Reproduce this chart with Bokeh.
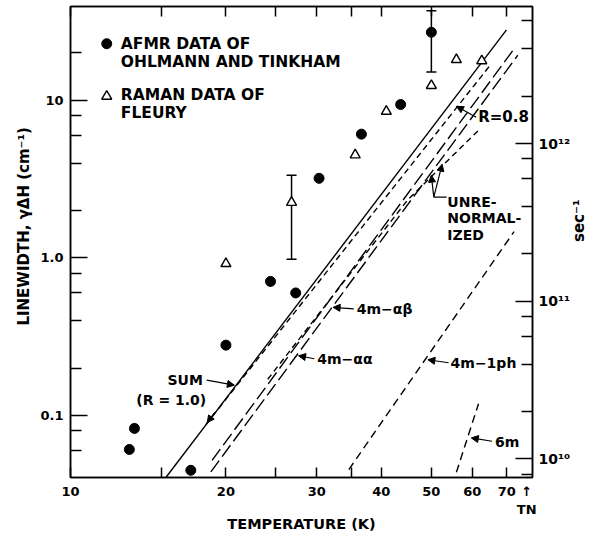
import math
from bokeh.plotting import figure
from bokeh.models import (Range1d, LogAxis, FixedTicker, Label, Arrow, NormalHead,
                          Whisker, TeeHead, ColumnDataSource)
from bokeh.embed import file_html
from bokeh.resources import INLINE

# ---------------- data ----------------
# AFMR data of Ohlmann and Tinkham (filled circles)
afmr_T = [13.0, 13.3, 17.1, 20.0, 24.4, 27.3, 30.3, 36.6, 43.6, 50.0]
afmr_W = [0.061, 0.083, 0.045, 0.28, 0.71, 0.60, 3.2, 6.1, 9.4, 27.0]
# Raman data of Fleury (open triangles)
raman_T = [20.0, 26.8, 35.6, 40.9, 50.0, 55.9, 62.6]
raman_W = [0.92, 2.25, 4.5, 8.5, 12.4, 18.1, 17.8]
# error bars
err_T = [26.8, 50.0]
err_lo = [0.98, 15.1]
err_hi = [3.35, 37.0]

# theory curves (temperature K, linewidth cm^-1)
sum_T = [15.3, 69.9]
sum_W = [0.0405, 28.0]
r08_T = [18.3, 64.9]
r08_W = [0.088, 16.6]
ab_T = [18.8, 71.9]
ab_W = [0.052, 20.7]
aa_T = [18.7, 73.5]
aa_W = [0.044, 19.3]
unren_T = [24.1, 45.0, 62.2]
unren_W = [0.170, 2.34, 6.62]
ph1_T = [34.6, 72.3]
ph1_W = [0.0455, 1.47]
m6_T = [55.9, 61.7]
m6_W = [0.0437, 0.119]

# ticks
T_N = 76.5
x_ticks = [10, 20, 30, 40, 50, 60, 70, T_N]
x_tick_labels = ["10", "20", "30", "40", "50", "60", "70", "\u2191\nTN"]
x_tick_marks = [10, 15, 20, 25, 30, 35, 40, 50, 60, 70]
y_ticks = [0.1, 1.0, 10.0]
y_tick_labels = ["0.1", "1.0", "10"]
y_minor = [0.04, 0.06, 0.08, 0.2, 0.4, 0.6, 0.8, 2, 4, 6, 8, 20]
sec_ticks = [1e10, 1e11, 1e12]
sec_tick_labels = ["10\u00b9\u2070", "10\u00b9\u00b9", "10\u00b9\u00b2"]
sec_minor = [8e9, 2e10, 4e10, 6e10, 8e10, 2e11, 4e11, 6e11, 8e11, 2e12, 4e12, 6e12]
CM_TO_SEC = 2 * math.pi * 2.998e10

# ---------------- layout calibration (page pixels) ----------------
W, H = 600, 534
FL, FR, FT, FB = 70, 538, 6, 478
X_DEC = 523.0   # px per decade in T
Y_DEC = 158.0   # px per decade in linewidth
Y10_PX = 100.0  # page y of 10 cm^-1


def tx(px):
    return 10 * 10 ** ((px - FL) / X_DEC)


def wy(py):
    return 10 * 10 ** ((Y10_PX - py) / Y_DEC)


FONT = "DejaVu Sans"
NB = "\u00a0"

x_range = Range1d(10, tx(FR))
y_range = Range1d(wy(FB), wy(FT))

p = figure(width=W, height=H, x_axis_type="log", y_axis_type="log",
           x_range=x_range, y_range=y_range,
           output_backend="svg", toolbar_location=None,
           min_border_left=FL, min_border_right=W - FR,
           min_border_top=FT, min_border_bottom=H - FB)
p.xgrid.visible = False
p.ygrid.visible = False
p.outline_line_color = "black"
p.outline_line_width = 1.5
p.background_fill_color = "white"
p.border_fill_color = "white"

p.extra_y_ranges = {"sec": Range1d(wy(FB) * CM_TO_SEC, wy(FT) * CM_TO_SEC)}


def style_axis(ax, ticks, minor, major_len, minor_len, labels=None, size="13px"):
    ax.ticker = FixedTicker(ticks=ticks, minor_ticks=minor)
    ax.major_tick_in = major_len
    ax.major_tick_out = 0
    ax.minor_tick_in = minor_len
    ax.minor_tick_out = 0
    ax.major_tick_line_width = 1.5
    ax.minor_tick_line_width = 1.5
    ax.axis_line_width = 1.5
    ax.major_tick_line_color = "black"
    ax.minor_tick_line_color = "black"
    ax.axis_line_color = "black"
    if labels is None:
        ax.major_label_overrides = {t: "" for t in ticks}
        ax.major_label_text_font_size = "1px"
        ax.major_label_standoff = 0
    else:
        ax.major_label_overrides = dict(zip(ticks, labels))
        ax.major_label_text_font = FONT
        ax.major_label_text_font_style = "bold"
        ax.major_label_text_font_size = size
        ax.major_label_text_color = "black"
        ax.major_label_standoff = 7
    ax.axis_label_text_font = FONT
    ax.axis_label_text_font_style = "bold"
    ax.axis_label_text_color = "black"


# bottom axis: tick marks drawn as minor ticks, labels on major ticks
xax = p.xaxis[0]
style_axis(xax, x_ticks, x_tick_marks, 0, 10, x_tick_labels)
xax.major_label_standoff = 6
xax.axis_label = "TEMPERATURE (K)"
xax.axis_label_text_font_size = "14.5px"
xax.axis_label_standoff = -4

yax = p.yaxis[0]
style_axis(yax, y_ticks, y_minor, 17, 11, y_tick_labels)
yax.axis_label = NB * 6 + "LINEWIDTH, \u03b3\u0394H (cm\u207b\u00b9)"
yax.axis_label_text_font_size = "15px"
yax.axis_label_standoff = 4

top = LogAxis()
style_axis(top, x_ticks[:-1], x_tick_marks, 0, 10)
p.add_layout(top, "above")

right = LogAxis(y_range_name="sec")
style_axis(right, sec_ticks, sec_minor, 17, 11, sec_tick_labels, size="14px")
right.major_label_standoff = 6
right.axis_label = "sec\u207b\u00b9"
right.axis_label_text_font_size = "15px"
right.axis_label_standoff = 6
right.axis_label_orientation = math.pi / 2
p.add_layout(right, "right")

# ---------------- theory lines ----------------
LW = 1.4
p.line(sum_T, sum_W, line_color="black", line_width=LW)
p.line(r08_T, r08_W, line_color="black", line_width=LW, line_dash="6 4")
p.line(ab_T, ab_W, line_color="black", line_width=LW, line_dash="14 5")
p.line(aa_T, aa_W, line_color="black", line_width=LW, line_dash="14 5")
p.line(unren_T, unren_W, line_color="black", line_width=LW, line_dash="6 4")
p.line(ph1_T, ph1_W, line_color="black", line_width=LW, line_dash="8 5")
p.line(m6_T, m6_W, line_color="black", line_width=LW, line_dash="8 5")

# ---------------- data points ----------------
err_src = ColumnDataSource(dict(x=err_T, lo=err_lo, hi=err_hi))
p.add_layout(Whisker(source=err_src, base="x", lower="lo", upper="hi",
                     line_width=1.5, line_color="black",
                     upper_head=TeeHead(size=10, line_width=1.5, line_color="black"),
                     lower_head=TeeHead(size=10, line_width=1.5, line_color="black")))
p.scatter(afmr_T, afmr_W, marker="circle", size=10, fill_color="black", line_color="black")
p.scatter(raman_T, raman_W, marker="triangle", size=10, fill_color="white",
          line_color="black", line_width=1.4)

# ---------------- legend (drawn by hand) ----------------
p.scatter([tx(106.7)], [wy(43.3)], marker="circle", size=10, fill_color="black", line_color="black")
p.scatter([tx(106.7)], [wy(96)], marker="triangle", size=10, fill_color="white",
          line_color="black", line_width=1.4)


def label(text, px, py, size="14px", align="left", angle=0.0, style="bold"):
    p.add_layout(Label(x=tx(px), y=wy(py), text=text, text_font=FONT,
                       text_font_style=style, text_font_size=size,
                       text_align=align, text_baseline="middle", angle=angle,
                       text_color="black"))


label("AFMR DATA OF", 121, 43.3, "15.5px")
label("OHLMANN AND TINKHAM", 121, 61.7, "15.5px")
label("RAMAN DATA OF", 121, 95, "15.5px")
label("FLEURY", 121, 112.7, "15.5px")

label("R=0.8", 483, 116.7, "15px")
label("UNRE-", 451.7, 201.6, "14px")
label("NORMAL-", 451.7, 218.3, "14px")
label("IZED", 451.7, 235, "14px")
label("4m\u2212\u03b1\u03b2", 360, 309.3, "14px")
label("4m\u2212\u03b1\u03b1", 320, 359.3, "14px")
label("4m\u22121ph", 455, 363.3, "14px")
label("6m", 500, 442.7, "14px")
label("SUM", 168.3, 380, "14px")
label("(R = 1.0)", 136.7, 400, "14px")


# ---------------- pointer arrows ----------------
def arrow(x0, y0, x1, y1, head=True):
    p.add_layout(Arrow(x_start=tx(x0), y_start=wy(y0), x_end=tx(x1), y_end=wy(y1),
                       line_width=1.2, line_color="black",
                       end=NormalHead(size=7, fill_color="black", line_color="black") if head else None))


arrow(357, 309, 336, 307.5)
arrow(317, 359, 301, 356)
arrow(453, 363, 432, 360)
arrow(497, 441.7, 476, 438.3)
arrow(208, 380.5, 236, 385.5)
arrow(216, 413, 208.5, 423)
arrow(481, 117, 461, 106)
arrow(451, 197, 438, 197, head=False)
arrow(438, 197, 446.5, 164)
arrow(438, 197, 435.5, 175)

open("out.html", "w").write(file_html(p, INLINE))
